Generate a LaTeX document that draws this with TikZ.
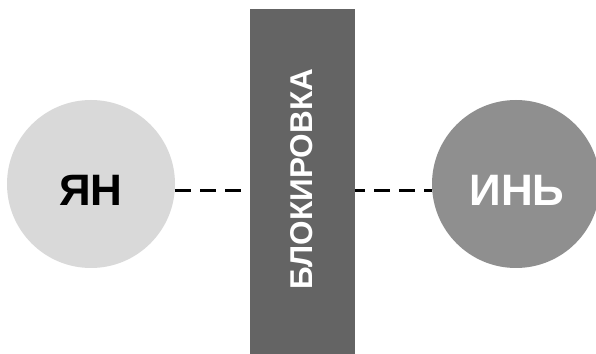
\documentclass[tikz,border=0pt]{standalone}
\usepackage{fontspec}
\setmainfont{Liberation Sans}
\newfontfamily\heavyfont{Liberation Sans Bold}
\definecolor{yanfill}{HTML}{D9D9D9}
\definecolor{yinfill}{HTML}{8F8F8F}
\definecolor{blockfill}{HTML}{646464}

\begin{document}
\begin{tikzpicture}[x=1pt,y=1pt,
	disc/.style={circle,minimum size=168pt,inner sep=0pt},
	word/.style={font=\heavyfont\fontsize{44}{44}\selectfont},
	link/.style={dash pattern=on 16pt off 9pt,line width=3pt}]
\useasboundingbox (0,0) rectangle (596,353);
\node[disc,fill=yanfill] (yan) at (91,169) {};
\node[disc,fill=yinfill] (yin) at (516,169) {};
\node[fill=blockfill,minimum width=105pt,minimum height=345pt,inner sep=0pt] (block) at (302.5,171.5) {};
\node[word] (yantext) at (91,162.5) {ЯН};
\node[word,white] (yintext) at (517,162.5) {ИНЬ};
\node[rotate=90,white,font=\heavyfont\fontsize{31.5}{31.5}\selectfont] (blocktext) at (302,174) {БЛОКИРОВКА};
\draw[link] (yantext -| yan.east) -- (yantext -| block.west);
\draw[link,dash phase=6pt] (yintext -| block.east) -- (yintext -| yin.west);
\end{tikzpicture}
\end{document}
